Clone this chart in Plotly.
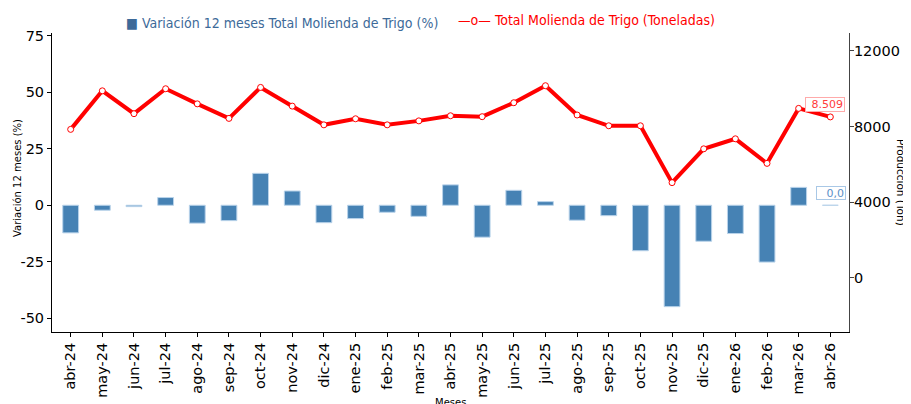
import plotly.graph_objects as go
from plotly.subplots import make_subplots

meses = ["abr-24", "may-24", "jun-24", "jul-24", "ago-24", "sep-24", "oct-24", "nov-24",
         "dic-24", "ene-25", "feb-25", "mar-25", "abr-25", "may-25", "jun-25", "jul-25",
         "ago-25", "sep-25", "oct-25", "nov-25", "dic-25", "ene-26", "feb-26", "mar-26", "abr-26"]

variacion_pct = [-12.2, -2.2, -0.6, 3.4, -7.9, -6.8, 14.1, 6.3, -7.7, -5.9, -3.1, -4.9, 9.0,
                 -14.1, 6.6, 1.6, -6.6, -4.6, -20.1, -44.8, -15.9, -12.5, -25.1, 7.9, 0.0]

molienda_ton = [7850, 9890, 8680, 10000, 9200, 8430, 10070, 9080, 8090, 8410, 8090, 8300, 8570,
                8520, 9260, 10160, 8610, 8040, 8040, 5030, 6820, 7350, 6050, 8960, 8509]

left_ticks = [-50, -25, 0, 25, 50, 75]
right_ticks = [0, 4000, 8000, 12000]

FONT = "DejaVu Sans"
BLUE = "#4682B4"
RED = "#FF0000"

fig = make_subplots(specs=[[{"secondary_y": True}]])

fig.add_trace(go.Bar(
    x=meses, y=variacion_pct, width=0.5,
    marker=dict(color=BLUE, line=dict(color="#b9d3ea", width=1)),
    showlegend=False, name="Variación 12 meses Total Molienda de Trigo (%)"
), secondary_y=False)

fig.add_trace(go.Scatter(
    x=meses, y=molienda_ton, mode="lines+markers",
    line=dict(color=RED, width=4),
    marker=dict(size=6, color="white", line=dict(color=RED, width=1)),
    showlegend=False, name="Total Molienda de Trigo (Toneladas)"
), secondary_y=True)

# page body has an 8px default margin: size the figure so the plot area lands at 52..849 x 33..332
fig.update_layout(
    width=903, height=396,
    margin=dict(l=44, r=62, t=25, b=72, autoexpand=False),
    plot_bgcolor="white", paper_bgcolor="white",
    font=dict(family=FONT, size=14.5, color="black"),
    bargap=0.5,
    showlegend=False,
)

fig.update_xaxes(
    type="category", range=[-0.59, 24.59], automargin=False, domain=[0, 1],
    tickangle=-90, ticks="outside", ticklen=4, tickcolor="black",
    showline=True, linecolor="black", linewidth=1, showgrid=False,
    tickfont=dict(family=FONT, size=14.5, color="black"),
)

fig.update_yaxes(
    range=[-56, 76.1], tickvals=left_ticks, ticktext=[str(v) for v in left_ticks],
    automargin=False,
    ticks="outside", ticklen=4, tickcolor="black",
    showline=True, linecolor="black", linewidth=1, showgrid=False, zeroline=False,
    tickfont=dict(family=FONT, size=14.5, color="black"),
    secondary_y=False,
)

fig.update_yaxes(
    range=[-2875, 12950], tickvals=right_ticks, ticktext=[str(v) for v in right_ticks],
    automargin=False, ticklabelstandoff=-3,
    ticks="outside", ticklen=4, tickcolor="#444",
    showline=True, linecolor="#444", linewidth=1, showgrid=False, zeroline=False,
    tickfont=dict(family=FONT, size=14.5, color="black"),
    secondary_y=True,
)

annotations = [
    # legend-like header texts
    dict(text="■ Variación 12 meses Total Molienda de Trigo (%)", xref="paper", yref="paper",
         x=(124 - 52) / 797, y=1 + (33 - 23) / 299, xanchor="left", yanchor="middle",
         showarrow=False, font=dict(family="DejaVu Sans Condensed, DejaVu Sans", size=14, color="#3d6a99")),
    dict(text="—o— Total Molienda de Trigo (Toneladas)", xref="paper", yref="paper",
         x=(456 - 52) / 797, y=1 + (33 - 20) / 299, xanchor="left", yanchor="middle",
         showarrow=False, font=dict(family="DejaVu Sans Condensed, DejaVu Sans", size=14, color=RED)),
    # axis titles
    dict(text="Variación 12 meses (%)", xref="paper", yref="paper",
         x=(17 - 52) / 797, y=(332 - 178) / 299, xanchor="center", yanchor="middle",
         textangle=-90, showarrow=False, font=dict(family=FONT, size=10, color="black")),
    dict(text="Producción (Ton)", xref="paper", yref="paper",
         x=(901 - 52) / 797, y=(332 - 182) / 299, xanchor="center", yanchor="middle",
         textangle=90, showarrow=False, font=dict(family=FONT, size=10.5, color="black")),
    dict(text="Meses", xref="paper", yref="paper",
         x=(450 - 52) / 797, y=-(402 - 332) / 299, xanchor="center", yanchor="middle",
         showarrow=False, font=dict(family=FONT, size=10, color="black")),
    # value labels
    dict(text=f"{molienda_ton[-1]:,}".replace(",", "."), x=meses[-1], y=molienda_ton[-1],
         xref="x", yref="y2", xshift=-5, yshift=12, showarrow=False,
         width=36, height=11, align="right",
         font=dict(family=FONT, size=11, color="#ff3b3b"),
         bgcolor="white", bordercolor="#ffaaaa", borderwidth=1, borderpad=1),
    dict(text=f"{variacion_pct[-1]:.1f}".replace(".", ","), x=meses[-1], y=variacion_pct[-1],
         xref="x", yref="y", xshift=1, yshift=12.5, showarrow=False,
         width=26, height=10, align="right",
         font=dict(family=FONT, size=11, color="#5b8fc7"),
         bgcolor="white", bordercolor="#a9c8e6", borderwidth=1, borderpad=1),
]
fig.update_layout(annotations=annotations)

fig.write_html("out.html")
